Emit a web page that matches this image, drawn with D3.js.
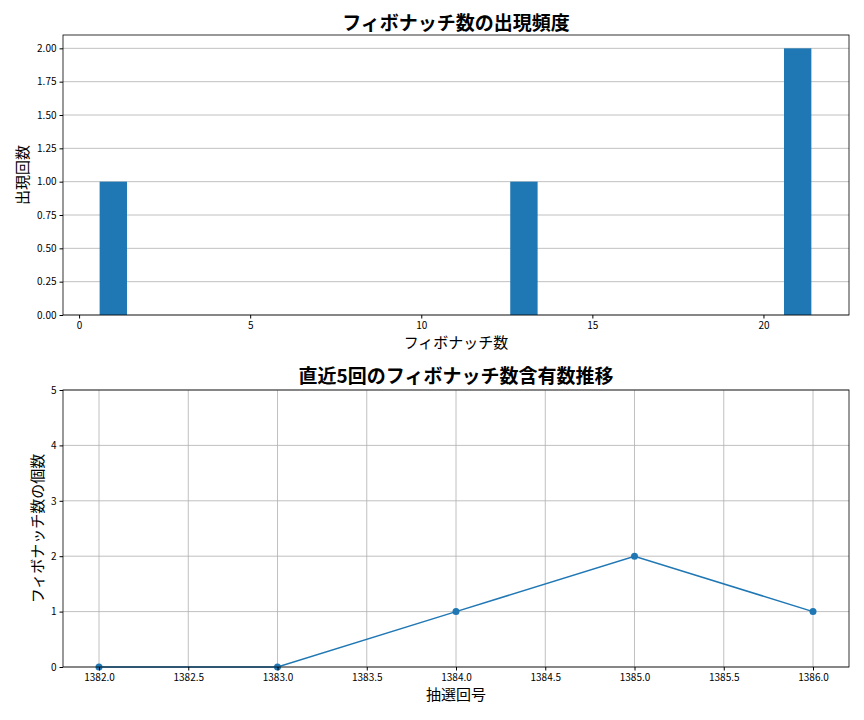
<!DOCTYPE html>
<html><head><meta charset="utf-8">
<script src="https://cdn.jsdelivr.net/npm/d3@7"></script>
<style>body{margin:0;background:#fff}text{font-family:"Noto Sans CJK JP",sans-serif}</style>
</head><body><svg id="c" width="864" height="720"></svg>
<script>
const fibValues = [1, 13, 21];
const fibCounts = [1, 1, 2];
const histTicksX = [0, 5, 10, 15, 20];
const histTicksY = [0, 0.25, 0.5, 0.75, 1, 1.25, 1.5, 1.75, 2];
const draws = [1382, 1383, 1384, 1385, 1386];
const fibPerDraw = [0, 0, 1, 2, 1];
const drawTicks = [1382, 1382.5, 1383, 1383.5, 1384, 1384.5, 1385, 1385.5, 1386];

const svg = d3.select("#c");
const blue = "#1f77b4";

function frame(g, x, y, w, h) {
  g.append("rect").attr("x", x).attr("y", y).attr("width", w).attr("height", h)
    .attr("fill", "none").attr("stroke", "#000").attr("stroke-width", 0.8);
}
function styleAxis(a) {
  a.select(".domain").remove();
  a.selectAll("text").attr("font-size", 10).attr("fill", "#000");
  a.selectAll("line").attr("stroke", "#000");
}

// top histogram
{
  const L = 63, R = 849, T = 35, B = 315;
  const x = d3.scaleLinear().domain([-0.47, 22.5]).range([L, R]);
  const y = d3.scaleLinear().domain([0, 2.1]).range([B, T]);
  const g = svg.append("g");
  g.selectAll(".gy").data(histTicksY).join("line")
    .attr("x1", L).attr("x2", R).attr("y1", d => y(d)).attr("y2", d => y(d))
    .attr("stroke", "#b0b0b0").attr("stroke-width", 0.8);
  g.selectAll(".bar").data(fibValues).join("rect")
    .attr("x", d => x(d - 0.4)).attr("width", x(0.8) - x(0))
    .attr("y", (d, i) => y(fibCounts[i])).attr("height", (d, i) => B - y(fibCounts[i]))
    .attr("fill", blue);
  styleAxis(g.append("g").attr("transform", `translate(0,${B})`)
    .call(d3.axisBottom(x).tickValues(histTicksX).tickSize(3.5).tickFormat(d3.format("d"))));
  styleAxis(g.append("g").attr("transform", `translate(${L},0)`)
    .call(d3.axisLeft(y).tickValues(histTicksY).tickSize(3.5).tickFormat(d3.format(".2f"))));
  frame(g, L, T, R - L, B - T);
  g.append("text").attr("x", (L + R) / 2).attr("y", 30).attr("text-anchor", "middle")
    .attr("font-size", 19).attr("font-weight", "bold").text("フィボナッチ数の出現頻度");
  g.append("text").attr("x", (L + R) / 2).attr("y", 348).attr("text-anchor", "middle")
    .attr("font-size", 15).text("フィボナッチ数");
  g.append("text").attr("transform", `translate(28,${(T + B) / 2}) rotate(-90)`).attr("text-anchor", "middle")
    .attr("font-size", 15).text("出現回数");
}

// bottom line chart
{
  const L = 63, R = 849, T = 390, B = 667;
  const x = d3.scaleLinear().domain([1382, 1386]).range([99, 813]);
  const y = d3.scaleLinear().domain([0, 5]).range([B, T]);
  const g = svg.append("g");
  g.selectAll(".gx").data(drawTicks).join("line")
    .attr("x1", d => x(d)).attr("x2", d => x(d)).attr("y1", T).attr("y2", B)
    .attr("stroke", "#b0b0b0").attr("stroke-width", 0.8);
  g.selectAll(".gy").data(d3.range(0, 6)).join("line")
    .attr("x1", L).attr("x2", R).attr("y1", d => y(d)).attr("y2", d => y(d))
    .attr("stroke", "#b0b0b0").attr("stroke-width", 0.8);
  const pts = draws.map((d, i) => [d, fibPerDraw[i]]);
  g.append("path").datum(pts).attr("fill", "none").attr("stroke", blue).attr("stroke-width", 1.5)
    .attr("d", d3.line().x(d => x(d[0])).y(d => y(d[1])));
  g.selectAll(".pt").data(pts).join("circle").attr("cx", d => x(d[0])).attr("cy", d => y(d[1]))
    .attr("r", 3.5).attr("fill", blue);
  styleAxis(g.append("g").attr("transform", `translate(0,${B})`)
    .call(d3.axisBottom(x).tickValues(drawTicks).tickSize(3.5).tickFormat(d3.format(".1f"))));
  styleAxis(g.append("g").attr("transform", `translate(${L},0)`)
    .call(d3.axisLeft(y).ticks(5).tickSize(3.5).tickFormat(d3.format("d"))));
  frame(g, L, T, R - L, B - T);
  g.append("text").attr("x", (L + R) / 2).attr("y", 383).attr("text-anchor", "middle")
    .attr("font-size", 19).attr("font-weight", "bold").text("直近5回のフィボナッチ数含有数推移");
  g.append("text").attr("x", (L + R) / 2).attr("y", 700).attr("text-anchor", "middle")
    .attr("font-size", 15).text("抽選回号");
  g.append("text").attr("transform", `translate(43,${(T + B) / 2}) rotate(-90)`).attr("text-anchor", "middle")
    .attr("font-size", 15).text("フィボナッチ数の個数");
}
</script></body></html>
